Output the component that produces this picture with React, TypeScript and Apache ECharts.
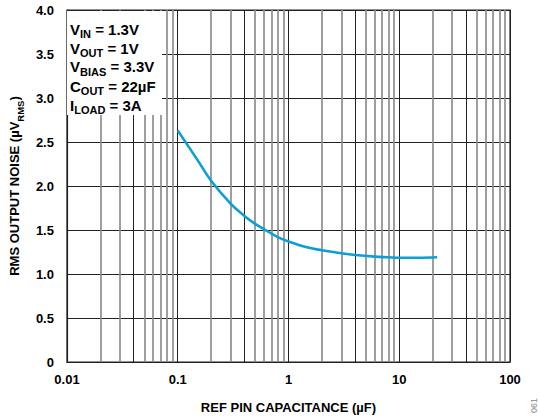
import React, { useEffect, useRef } from "react";
import * as echarts from "echarts";

// Data
const capValues = [0.1, 0.15, 0.2, 0.3, 0.4, 0.5, 0.6, 0.8, 1, 1.5, 2, 3, 4, 6, 8, 10, 15, 22];
const noiseValues = [2.63, 2.3, 2.06, 1.8, 1.66, 1.57, 1.51, 1.42, 1.37, 1.3, 1.27, 1.235, 1.215, 1.197, 1.19, 1.185, 1.185, 1.19];

// Vertical gridlines of the log axis
const xGridMinor = [0.02, 0.03, 0.05, 0.06, 0.07, 0.08, 0.09, 0.2, 0.3, 0.5, 0.6, 0.7, 0.8, 0.9, 2, 3, 5, 6, 7, 8, 9, 20, 30, 50, 60, 70, 80, 90];
const xGridDark = [0.04, 0.4, 4, 40];

const conditionLines = [
  ["V", "IN", " = 1.3V"],
  ["V", "OUT", " = 1V"],
  ["V", "BIAS", " = 3.3V"],
  ["C", "OUT", " = 22µF"],
  ["I", "LOAD", " = 3A"],
];

const FONT = "Liberation Sans, Arial, Helvetica, sans-serif";

export default function App() {
  const ref = useRef<HTMLDivElement>(null);

  useEffect(() => {
    if (!ref.current) return;
    const chart = echarts.init(ref.current, null, { renderer: "svg" });

    const rich = {
      m: { fontSize: 15, fontWeight: "bold", fontFamily: FONT, color: "#000", lineHeight: 17, verticalAlign: "top" },
      s: { fontSize: 11, fontWeight: "bold", fontFamily: FONT, color: "#000", lineHeight: 13, padding: [7, 0, 0, 0], verticalAlign: "top" },
    };

    const lineYs = [21.5, 40.5, 59, 78.5, 97.5];

    const graphic: any[] = [
      {
        type: "rect",
        z: 50,
        shape: { x: 67, y: 11, width: 95, height: 104 },
        style: { fill: "#fff" },
        silent: true,
      },
      ...conditionLines.map((l, i) => ({
        type: "text",
        z: 60,
        x: 70,
        y: lineYs[i],
        style: {
          text: `{m|${l[0]}}{s|${l[1]}}{m|${l[2]}}`,
          rich,
          fontFamily: FONT,
        },
      })),
      {
        type: "text",
        z: 60,
        x: 529,
        y: 413,
        rotation: Math.PI / 2,
        style: { text: "061", fontSize: 9, fontFamily: FONT, fill: "#888" },
      },
    ];

    const fmtX = (v: number) => String(Number(v.toPrecision(3)));

    chart.setOption({
      animation: false,
      grid: {
        left: 66,
        right: 29,
        top: 10,
        bottom: 53,
        show: true,
        borderColor: "#222",
        borderWidth: 1.2,
        backgroundColor: "#fff",
      },
      xAxis: {
        type: "log",
        logBase: 10,
        min: 0.01,
        max: 100,
        name: "REF PIN CAPACITANCE (µF)",
        nameLocation: "middle",
        nameGap: 39,
        nameTextStyle: { fontSize: 13, fontWeight: "bold", fontFamily: FONT, color: "#000" },
        axisLine: { show: true, lineStyle: { color: "#222", width: 1.2 } },
        axisTick: { show: false },
        axisLabel: { formatter: fmtX, fontSize: 13, fontWeight: "bold", fontFamily: FONT, color: "#000", margin: 11 },
        splitLine: { show: true, lineStyle: { color: "#222", width: 1 } },
        minorTick: { show: false },
        minorSplitLine: { show: false },
      },
      yAxis: {
        type: "value",
        min: 0,
        max: 4,
        interval: 0.5,
        name: "{m|RMS OUTPUT NOISE (µV}{s|RMS}{m|)}",
        nameLocation: "middle",
        nameGap: 37,
        nameRotate: 90,
        nameTextStyle: {
          fontSize: 13,
          fontWeight: "bold",
          fontFamily: FONT,
          color: "#000",
          rich: {
            m: { fontSize: 13, fontWeight: "bold", fontFamily: FONT, color: "#000", lineHeight: 15, verticalAlign: "top" },
            s: { fontSize: 9.5, fontWeight: "bold", fontFamily: FONT, color: "#000", lineHeight: 11, padding: [7, 0, 0, 0], verticalAlign: "top" },
          },
        },
        axisLine: { show: true, lineStyle: { color: "#222", width: 1.2 } },
        axisTick: { show: false },
        axisLabel: {
          formatter: (v: number) => (v === 0 ? "0" : v.toFixed(1)),
          fontSize: 13,
          fontWeight: "bold",
          fontFamily: FONT,
          color: "#000",
          margin: 13,
        },
        splitLine: { show: true, lineStyle: { color: "#222", width: 1 } },
      },
      graphic,
      series: [
        {
          type: "line",
          data: [],
          silent: true,
          z: 1,
          markLine: {
            silent: true,
            symbol: ["none", "none"],
            label: { show: false },
            lineStyle: { type: "solid", color: "#8e8e8e", width: 1.7 },
            data: xGridMinor.map((v) => ({ xAxis: v })),
          },
        },
        {
          type: "line",
          data: [],
          silent: true,
          z: 2,
          markLine: {
            silent: true,
            symbol: ["none", "none"],
            label: { show: false },
            lineStyle: { type: "solid", color: "#222", width: 1 },
            data: xGridDark.map((v) => ({ xAxis: v })),
          },
        },
        {
          type: "line",
          z: 5,
          data: capValues.map((c, i) => [c, noiseValues[i]]),
          smooth: 0.4,
          showSymbol: false,
          symbol: "none",
          lineStyle: { color: "#0b9fd6", width: 2.6 },
        },
      ],
    });

    return () => chart.dispose();
  }, []);

  return <div ref={ref} style={{ width: 539, height: 419, position: "absolute", left: 0, top: 0 }} />;
}
